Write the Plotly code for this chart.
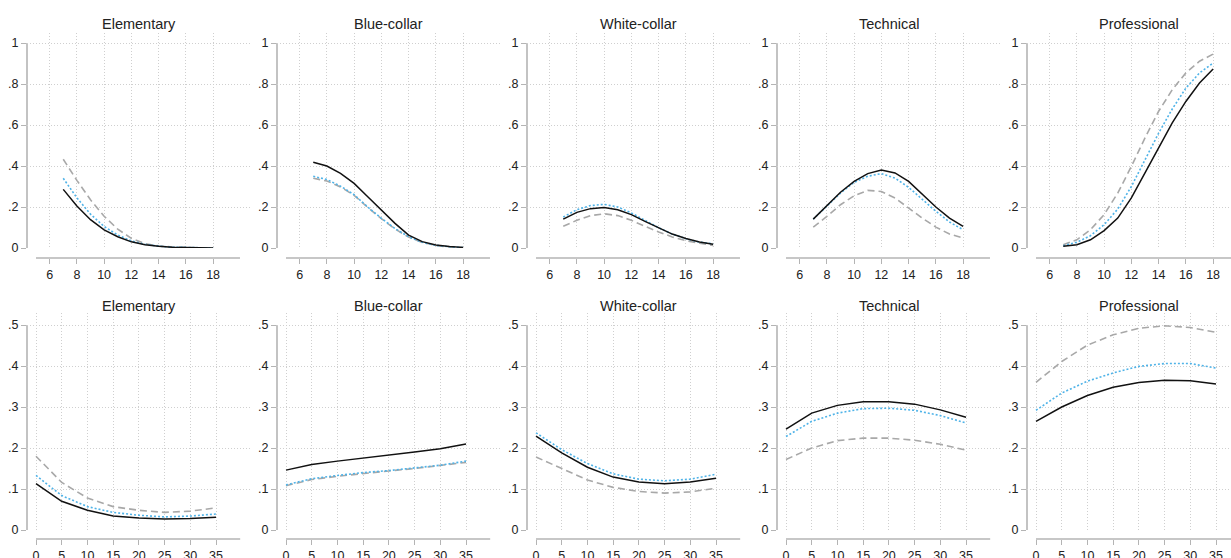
import plotly.graph_objects as go

# ---------------- data ----------------
categories = ["Elementary", "Blue-collar", "White-collar", "Technical", "Professional"]

top_x = [7, 8, 9, 10, 11, 12, 13, 14, 15, 16, 17, 18]
bottom_x = [0, 5, 10, 15, 20, 25, 30, 35]

top_ytickvals = [0, 0.2, 0.4, 0.6, 0.8, 1.0]
top_yticktext = ["0", ".2", ".4", ".6", ".8", "1"]
top_xtickvals = [6, 8, 10, 12, 14, 16, 18]
bottom_ytickvals = [0, 0.1, 0.2, 0.3, 0.4, 0.5]
bottom_yticktext = ["0", ".1", ".2", ".3", ".4", ".5"]
bottom_xtickvals = [0, 5, 10, 15, 20, 25, 30, 35]

# top row (x = 7..18)
top_solid = [
    [0.286, 0.205, 0.138, 0.088, 0.055, 0.030, 0.016, 0.008, 0.004, 0.002, 0.001, 0.000],
    [0.418, 0.400, 0.364, 0.315, 0.250, 0.185, 0.120, 0.063, 0.031, 0.015, 0.007, 0.003],
    [0.141, 0.174, 0.192, 0.198, 0.187, 0.163, 0.130, 0.098, 0.068, 0.046, 0.029, 0.018],
    [0.141, 0.207, 0.272, 0.325, 0.363, 0.380, 0.366, 0.325, 0.263, 0.200, 0.146, 0.106],
    [0.008, 0.016, 0.040, 0.085, 0.146, 0.244, 0.366, 0.488, 0.610, 0.715, 0.805, 0.873],
]
top_dotted = [
    [0.340, 0.245, 0.165, 0.105, 0.063, 0.035, 0.018, 0.009, 0.004, 0.002, 0.001, 0.000],
    [0.350, 0.334, 0.302, 0.260, 0.200, 0.145, 0.095, 0.055, 0.028, 0.013, 0.006, 0.002],
    [0.151, 0.187, 0.207, 0.213, 0.200, 0.171, 0.135, 0.099, 0.068, 0.046, 0.029, 0.020],
    [0.141, 0.207, 0.268, 0.320, 0.350, 0.363, 0.341, 0.296, 0.239, 0.179, 0.127, 0.089],
    [0.011, 0.028, 0.060, 0.114, 0.190, 0.300, 0.430, 0.560, 0.678, 0.780, 0.854, 0.902],
]
top_dashed = [
    [0.433, 0.330, 0.235, 0.155, 0.092, 0.047, 0.021, 0.010, 0.005, 0.002, 0.001, 0.000],
    [0.340, 0.327, 0.298, 0.257, 0.198, 0.143, 0.093, 0.053, 0.027, 0.012, 0.005, 0.002],
    [0.106, 0.135, 0.158, 0.167, 0.158, 0.135, 0.106, 0.078, 0.054, 0.036, 0.023, 0.013],
    [0.102, 0.154, 0.211, 0.255, 0.281, 0.276, 0.244, 0.195, 0.146, 0.102, 0.068, 0.049],
    [0.016, 0.040, 0.089, 0.163, 0.268, 0.398, 0.537, 0.667, 0.772, 0.854, 0.911, 0.946],
]

# bottom row (x = 0..35)
bottom_solid = [
    [0.113, 0.070, 0.048, 0.034, 0.029, 0.027, 0.028, 0.031],
    [0.146, 0.160, 0.168, 0.175, 0.182, 0.190, 0.198, 0.210],
    [0.229, 0.188, 0.153, 0.129, 0.117, 0.113, 0.117, 0.126],
    [0.246, 0.285, 0.304, 0.313, 0.313, 0.307, 0.293, 0.275],
    [0.265, 0.300, 0.328, 0.348, 0.360, 0.365, 0.364, 0.356],
]
bottom_dotted = [
    [0.133, 0.084, 0.057, 0.043, 0.036, 0.032, 0.034, 0.039],
    [0.110, 0.125, 0.133, 0.140, 0.145, 0.152, 0.158, 0.168],
    [0.237, 0.196, 0.162, 0.137, 0.124, 0.120, 0.124, 0.136],
    [0.228, 0.265, 0.285, 0.296, 0.297, 0.292, 0.279, 0.261],
    [0.292, 0.334, 0.363, 0.383, 0.399, 0.406, 0.406, 0.395],
]
bottom_dashed = [
    [0.180, 0.116, 0.078, 0.057, 0.048, 0.043, 0.046, 0.054],
    [0.108, 0.123, 0.131, 0.138, 0.144, 0.150, 0.157, 0.165],
    [0.178, 0.149, 0.122, 0.104, 0.094, 0.090, 0.093, 0.102],
    [0.172, 0.200, 0.218, 0.224, 0.224, 0.219, 0.209, 0.195],
    [0.360, 0.411, 0.451, 0.476, 0.492, 0.498, 0.494, 0.482],
]

# ---------------- styling / layout ----------------
W, H = 1231, 558
FONT = "Liberation Sans, Arial, sans-serif"
C_SOLID = "#111111"
C_DOT = "#4fb3e8"
C_DASH = "#a8a8a8"
C_AXIS = "#b4b4b4"
C_GRID = "#cfcfcf"
C_TEXT = "#222222"

PANEL_STEP = 250
PLOT_LEFT = 27       # y-axis line position (px) for panel 0
PLOT_RIGHT = 250     # right edge of plot region (px) for panel 0

rows = [
    dict(x=top_x, solid=top_solid, dotted=top_dotted, dashed=top_dashed,
         top_px=33, zero_px=248, axis_px=258, title_px=24,
         x0_px=36, x0=5.0, px_per_x=13.625, px_per_y=205.0,
         ytop=1.0, xline_end=19.97,
         ytickvals=top_ytickvals, yticktext=top_yticktext, xtickvals=top_xtickvals),
    dict(x=bottom_x, solid=bottom_solid, dotted=bottom_dotted, dashed=bottom_dashed,
         top_px=313, zero_px=530, axis_px=539, title_px=306,
         x0_px=36, x0=0.0, px_per_x=5.143, px_per_y=410.0,
         ytop=0.5, xline_end=39.7,
         ytickvals=bottom_ytickvals, yticktext=bottom_yticktext, xtickvals=bottom_xtickvals),
]

fig = go.Figure()
layout = {}
shapes = []
annotations = []

idx = 0
for r, row in enumerate(rows):
    for c, cat in enumerate(categories):
        idx += 1
        xa = "x" if idx == 1 else f"x{idx}"
        ya = "y" if idx == 1 else f"y{idx}"
        xkey = "xaxis" if idx == 1 else f"xaxis{idx}"
        ykey = "yaxis" if idx == 1 else f"yaxis{idx}"

        left_px = PLOT_LEFT + PANEL_STEP * c
        full_right_px = PLOT_RIGHT + PANEL_STEP * c
        right_px = min(full_right_px, W)
        x0_px = row["x0_px"] + PANEL_STEP * c
        xmin = row["x0"] - (x0_px - left_px) / row["px_per_x"]
        xmax = row["x0"] + (right_px - x0_px) / row["px_per_x"]
        ymax = (row["zero_px"] - row["top_px"]) / row["px_per_y"]

        layout[xkey] = dict(
            domain=[left_px / W, right_px / W],
            range=[xmin, xmax],
            anchor="free",
            position=1 - row["axis_px"] / H,
            automargin=False,
            showline=False, zeroline=False,
            showgrid=True, gridcolor=C_GRID, griddash="1px,2px", gridwidth=1,
            tickmode="array", tickvals=row["xtickvals"],
            ticks="outside", ticklen=5, tickwidth=1.2, tickcolor=C_AXIS,
            tickfont=dict(family=FONT, size=12.5, color=C_TEXT),
        )
        layout[ykey] = dict(
            domain=[1 - row["zero_px"] / H, 1 - row["top_px"] / H],
            range=[0, ymax],
            anchor=xa,
            automargin=False,
            showline=False, zeroline=False,
            showgrid=True, gridcolor=C_GRID, griddash="1px,2px", gridwidth=1,
            tickmode="array", tickvals=row["ytickvals"], ticktext=row["yticktext"],
            ticks="outside", ticklen=5, tickwidth=1.2, tickcolor=C_AXIS,
            tickfont=dict(family=FONT, size=12.5, color=C_TEXT),
        )

        # axis lines (Stata style: y line spans label range, x line offset below)
        xline_end = min(row["xline_end"], xmax)
        shapes.append(dict(type="line", xref=xa, yref="paper",
                           x0=row["x0"], x1=xline_end,
                           y0=1 - row["axis_px"] / H, y1=1 - row["axis_px"] / H,
                           line=dict(color=C_AXIS, width=1.6), layer="below"))
        shapes.append(dict(type="line", xref="paper", yref=ya,
                           x0=left_px / W, x1=left_px / W,
                           y0=0, y1=row["ytop"],
                           line=dict(color=C_AXIS, width=1.6), layer="below"))

        annotations.append(dict(text=cat, xref="paper", yref="paper",
                                x=(left_px + full_right_px) / 2 / W,
                                y=1 - row["title_px"] / H,
                                xanchor="center", yanchor="middle", showarrow=False,
                                font=dict(family=FONT, size=14.5, color=C_TEXT)))

        fig.add_trace(go.Scatter(x=row["x"], y=row["dashed"][c], xaxis=xa, yaxis=ya,
                                 mode="lines", line=dict(color=C_DASH, width=1.6, dash="7px,4px"),
                                 showlegend=False, cliponaxis=False))
        fig.add_trace(go.Scatter(x=row["x"], y=row["dotted"][c], xaxis=xa, yaxis=ya,
                                 mode="lines", line=dict(color=C_DOT, width=1.6, dash="2px,2px"),
                                 showlegend=False, cliponaxis=False))
        fig.add_trace(go.Scatter(x=row["x"], y=row["solid"][c], xaxis=xa, yaxis=ya,
                                 mode="lines", line=dict(color=C_SOLID, width=1.5),
                                 showlegend=False, cliponaxis=False))

fig.update_layout(
    width=W, height=H,
    margin=dict(l=0, r=0, t=0, b=0, autoexpand=False),
    paper_bgcolor="white", plot_bgcolor="white",
    showlegend=False,
    shapes=shapes,
    annotations=annotations,
    **layout,
)

fig.write_html(
    "out.html",
    config={"displayModeBar": False},
    post_script="document.body.style.margin='0';document.body.style.padding='0';"
                "document.documentElement.style.overflow='hidden';",
)
